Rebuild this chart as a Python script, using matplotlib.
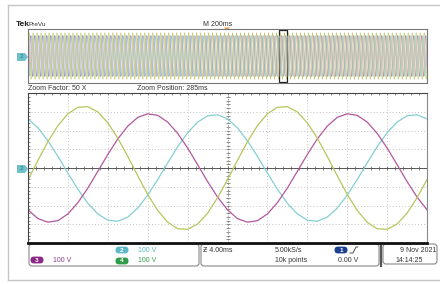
import numpy as np
import matplotlib.pyplot as plt
from matplotlib.patches import Rectangle, FancyBboxPatch, Polygon

plt.rcParams['font.family'] = ['Liberation Sans', 'DejaVu Sans']

# ==========================================================
# DATA (1 ms steps, volts)
# ==========================================================

t_ms = np.arange(0, 41)

green_v = [-62, 41, 141, 226, 289, 324, 327, 299, 241, 159, 62,
           -41, -141, -226, -289, -324, -327, -299, -241, -159, -62,
           41, 141, 226, 289, 324, 327, 299, 241, 159, 62,
           -41, -141, -226, -289, -324, -327, -299, -241, -159, -62]

magenta_v = [-223, -270, -289, -281, -245, -185, -107, -18, 72, 155,
             223, 270, 289, 281, 245, 185, 107, 18, -72, -155,
             -223, -270, -289, -281, -245, -185, -107, -18, 72, 155,
             223, 270, 289, 281, 245, 185, 107, 18, -72, -155, -223]

cyan_v = [262, 214, 145, 62, -27, -113, -188, -245, -278, -284,
          -262, -214, -145, -62, 27, 113, 188, 245, 278, 284,
          262, 214, 145, 62, -27, -113, -188, -245, -278, -284,
          -262, -214, -145, -62, 27, 113, 188, 245, 278, 284, 262]

N_CYCLES = 100  # 2 s record at 50 Hz in the overview

GREEN = '#b8c55c'
MAGENTA = '#b3579e'
CYAN = '#84cfd3'
TXT = '#333333'

# ==========================================================
# FIGURE
# ==========================================================

W, H = 440, 284
fig = plt.figure(figsize=(W / 100, H / 100), dpi=100)


def box(x0, y0, x1, y1):
    return [x0 / W, 1 - y1 / H, (x1 - x0) / W, (y1 - y0) / H]


bg = fig.add_axes([0, 0, 1, 1], zorder=0)
bg.set_xlim(0, W)
bg.set_ylim(H, 0)
bg.axis('off')

# outer frame
bg.plot([8, 8], [5, 280], color='#c6c6c6', lw=1)
bg.plot([8, 440], [5, 5], color='#c6c6c6', lw=1)
bg.plot([8, 440], [280, 280], color='#c6c6c6', lw=1)

# header
bg.text(15.5, 24.5, 'Tek', fontsize=6, fontweight='bold', color='#222', va='center')
bg.text(28.5, 24.5, 'PreVu', fontsize=4.6, color=TXT, va='center')
bg.text(203, 24.5, 'M 200ms', fontsize=5, color=TXT, va='center')
bg.add_patch(Polygon([(224, 27.5), (230, 27.5), (227, 31)], closed=True,
                     fc='#e3a23a', ec='none'))

# zoom labels
bg.text(28, 88, 'Zoom Factor: 50 X', fontsize=5, color=TXT, va='center')
bg.text(137, 88, 'Zoom Position: 285ms', fontsize=5, color=TXT, va='center')

# channel 2 ground markers
for yc in [57, 169]:
    bg.add_patch(Polygon([(17, yc - 4), (25, yc - 4), (28, yc), (25, yc + 4), (17, yc + 4)],
                         closed=True, fc='#6fc2cb', ec='none'))
    bg.text(21.5, yc, '2', fontsize=4.5, color='#2f7480', ha='center', va='center')

# bottom readout boxes
for x0, x1, y1 in [(29, 199, 266), (201, 379, 266), (383, 437, 264)]:
    bg.add_patch(FancyBboxPatch((x0, 244), x1 - x0, y1 - 244,
                                boxstyle='round,pad=0,rounding_size=3',
                                fc='white', ec='#8a8a8a', lw=0.8))
bg.plot([381, 381], [245, 266], color='#555', lw=1.6)


def badge(cx, cy, label, color):
    bg.add_patch(FancyBboxPatch((cx - 6.5, cy - 3.4), 13, 6.8,
                                boxstyle='round,pad=0,rounding_size=3.4',
                                fc=color, ec='none'))
    bg.text(cx, cy, label, fontsize=4.6, color='white', fontweight='bold',
            ha='center', va='center')


badge(37, 260, '3', '#8b2a86')
bg.text(53, 260, '100 V', fontsize=5, color='#8b3a88', va='center')
badge(122, 250, '2', '#5fb8c8')
bg.text(138, 250, '100 V', fontsize=5, color='#5ab5c6', va='center')
badge(122, 261, '4', '#2f9c4a')
bg.text(138, 261, '100 V', fontsize=5, color='#3e9e50', va='center')

bg.text(203, 250, 'Ƶ 4.00ms', fontsize=5, color=TXT, va='center')
bg.text(275, 250, '5.00kS/s', fontsize=5, color=TXT, va='center')
bg.text(275, 260, '10k points', fontsize=5, color=TXT, va='center')
badge(341, 250, '1', '#1d3f8f')
bg.plot([350, 353, 356, 358], [253, 253, 247, 247], color=TXT, lw=0.6)
bg.text(338, 260, '0.00 V', fontsize=5, color=TXT, va='center')
bg.text(400, 250, '9 Nov 2021', fontsize=5, color=TXT, va='center')
bg.text(395, 260, '14:14:25', fontsize=5, color=TXT, va='center')

# ==========================================================
# OVERVIEW
# ==========================================================

ov = fig.add_axes(box(28, 29, 427, 83), zorder=2)
t_ov = np.arange(0, 20 * N_CYCLES)
ov.plot(t_ov, np.tile(cyan_v[:20], N_CYCLES), color=CYAN, lw=0.4)
ov.plot(t_ov, np.tile(magenta_v[:20], N_CYCLES), color=MAGENTA, lw=0.4, alpha=0.7)
ov.plot(t_ov, np.tile(green_v[:20], N_CYCLES), color=GREEN, lw=0.4, alpha=0.9)
ov.set_xlim(0, 2000)
ov.set_ylim(-380, 380)
ov.set_xticks([])
ov.set_yticks([])
for s in ov.spines.values():
    s.set_color('#777')
    s.set_linewidth(0.8)
ov.add_patch(Rectangle((1260, -370), 40, 740, fill=False, ec='#222', lw=0.9, clip_on=False))

# ==========================================================
# MAIN ZOOM WINDOW
# ==========================================================

ax = fig.add_axes(box(28, 93, 427, 243), zorder=2)
ax.set_xlim(0, 40)
ax.set_ylim(-400, 400)
ax.set_xticks([])
ax.set_yticks([])

dot = (0, (1.2, 2.6))
for x in range(4, 40, 4):
    if x != 20:
        ax.axvline(x, color='#b8b8b8', lw=0.6, ls=dot)
for y in range(-300, 400, 100):
    if y != 0:
        ax.axhline(y, color='#b8b8b8', lw=0.6, ls=dot)

ax.axhline(0, color='#555', lw=0.7)
ax.axvline(20, color='#999', lw=0.6, ls=(0, (2, 1.5)))

xs = np.arange(0, 40.01, 0.8)
ys = np.arange(-400, 401, 20)
ax.plot(xs, np.zeros_like(xs), ls='none', marker='|', ms=3, mew=0.5, color='#555')
ax.plot(np.full(len(ys), 20.0), ys, ls='none', marker='_', ms=3, mew=0.5, color='#666')
ax.plot(xs, np.full(len(xs), 400.0), ls='none', marker='|', ms=3, mew=0.5, color='#555')
ax.plot(np.zeros(len(ys)), ys, ls='none', marker='_', ms=3, mew=0.5, color='#555')

ax.plot(t_ms, cyan_v, color=CYAN, lw=0.9)
ax.plot(t_ms, magenta_v, color=MAGENTA, lw=0.9)
ax.plot(t_ms, green_v, color=GREEN, lw=0.9)

for name in ['top', 'left']:
    ax.spines[name].set_color('#444')
    ax.spines[name].set_linewidth(0.8)
ax.spines['right'].set_color('#888')
ax.spines['right'].set_linewidth(0.8)
ax.spines['bottom'].set_color('#111')
ax.spines['bottom'].set_linewidth(2)

fig.savefig('out.png', dpi=100)
